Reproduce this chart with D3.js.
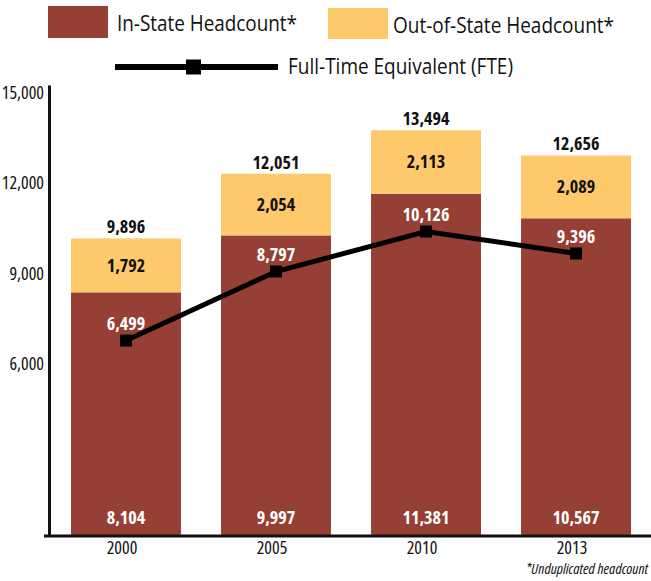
<!DOCTYPE html>
<html>
<head>
<meta charset="utf-8">
<script src="https://cdn.jsdelivr.net/npm/d3@7"></script>
<style>
  body { margin: 0; background: #fff; }
  svg { display: block; font-family: "Open Sans", sans-serif; font-stretch: condensed; }
  .axis text { font-size: 18px; fill: #111; font-family: "Open Sans", sans-serif; }
  .legend text { font-stretch: normal; }
</style>
</head>
<body>
<svg id="chart" width="651" height="581"></svg>
<script>
var WIDTH = 651;
var HEIGHT = 581;
var BASELINE = 536;
var IN_COLOR = '#963f35';
var OUT_COLOR = '#fec96a';

var years = ['2000', '2005', '2010', '2013'];
var inState = [8104, 9997, 11381, 10567];
var outState = [1792, 2054, 2113, 2089];
var totals = [9896, 12051, 13494, 12656];
var fte = [6499, 8797, 10126, 9396];
var yTicks = [6000, 9000, 12000, 15000];

var fmt = d3.format(',');
var svg = d3.select('#chart');

var x = d3.scaleBand()
  .domain(years)
  .range([50, 652])
  .paddingInner(0.267)
  .paddingOuter(0.14);

var y = d3.scaleLinear()
  .domain([0, 15000])
  .range([BASELINE, 85]);

// bars
var bars = svg.append('g').attr('class', 'bars');

bars.selectAll('.in-state')
  .data(years)
  .enter()
  .append('rect')
  .attr('class', 'in-state')
  .attr('x', d => x(d))
  .attr('width', x.bandwidth())
  .attr('y', (d, i) => y(inState[i]))
  .attr('height', (d, i) => BASELINE - y(inState[i]))
  .attr('fill', IN_COLOR);

bars.selectAll('.out-state')
  .data(years)
  .enter()
  .append('rect')
  .attr('class', 'out-state')
  .attr('x', d => x(d))
  .attr('width', x.bandwidth())
  .attr('y', (d, i) => y(inState[i] + outState[i]))
  .attr('height', (d, i) => y(inState[i]) - y(inState[i] + outState[i]))
  .attr('fill', OUT_COLOR);

// axes
var yAxis = d3.axisLeft(y)
  .tickValues(yTicks)
  .tickSize(0)
  .tickPadding(5)
  .tickFormat(fmt);

var yAxisGroup = svg.append('g')
  .attr('class', 'axis axis-y')
  .attr('transform', 'translate(49, 0)')
  .call(yAxis);

yAxisGroup.select('.domain').attr('stroke', '#111').attr('stroke-width', 3);
yAxisGroup.selectAll('text').attr('y', 8);

var xAxis = d3.axisBottom(x).tickSize(0).tickPadding(5);

var xAxisGroup = svg.append('g')
  .attr('class', 'axis axis-x')
  .attr('transform', 'translate(0, ' + BASELINE + ')')
  .call(xAxis);

xAxisGroup.select('.domain').remove();
xAxisGroup.selectAll('text').attr('dx', -4);

svg.append('line')
  .attr('x1', 44)
  .attr('x2', WIDTH)
  .attr('y1', BASELINE)
  .attr('y2', BASELINE)
  .attr('stroke', '#111')
  .attr('stroke-width', 3);

// FTE line
var cx = d => x(d) + x.bandwidth() / 2;

var line = d3.line()
  .x(d => cx(d))
  .y((d, i) => y(fte[i]));

svg.append('path')
  .attr('d', line(years))
  .attr('fill', 'none')
  .attr('stroke', '#000')
  .attr('stroke-width', 5);

svg.selectAll('.fte-marker')
  .data(years)
  .enter()
  .append('rect')
  .attr('class', 'fte-marker')
  .attr('x', d => cx(d) - 6)
  .attr('y', (d, i) => y(fte[i]) - 6)
  .attr('width', 12)
  .attr('height', 12)
  .attr('fill', '#000');

// value labels
var labels = svg.append('g')
  .attr('text-anchor', 'middle')
  .attr('font-weight', 'bold')
  .attr('font-size', 18);

labels.selectAll('.total')
  .data(years)
  .enter()
  .append('text')
  .attr('x', cx)
  .attr('y', (d, i) => y(inState[i] + outState[i]) - 5)
  .attr('fill', '#111')
  .text((d, i) => fmt(totals[i]));

labels.selectAll('.out-label')
  .data(years)
  .enter()
  .append('text')
  .attr('x', cx)
  .attr('y', (d, i) => (y(inState[i]) + y(inState[i] + outState[i])) / 2)
  .attr('dy', '0.35em')
  .attr('fill', '#111')
  .text((d, i) => fmt(outState[i]));

labels.selectAll('.fte-label')
  .data(years)
  .enter()
  .append('text')
  .attr('x', cx)
  .attr('y', (d, i) => y(fte[i]) - 17)
  .attr('dy', '0.35em')
  .attr('fill', '#fff')
  .text((d, i) => fmt(fte[i]));

labels.selectAll('.in-label')
  .data(years)
  .enter()
  .append('text')
  .attr('x', cx)
  .attr('y', BASELINE - 12)
  .attr('fill', '#fff')
  .text((d, i) => fmt(inState[i]));

// legend (Myriad-like width: squeeze regular text to the reference lengths)
var legend = svg.append('g').attr('class', 'legend').attr('font-size', 21).attr('fill', '#111');

legend.append('rect').attr('x', 48).attr('y', 6).attr('width', 60).attr('height', 32).attr('fill', IN_COLOR);
legend.append('text').attr('x', 117).attr('y', 31)
  .attr('textLength', 180).attr('lengthAdjust', 'spacingAndGlyphs')
  .text('In-State Headcount*');

legend.append('rect').attr('x', 328).attr('y', 8).attr('width', 60).attr('height', 31).attr('fill', OUT_COLOR);
legend.append('text').attr('x', 393).attr('y', 33)
  .attr('textLength', 221).attr('lengthAdjust', 'spacingAndGlyphs')
  .text('Out-of-State Headcount*');

legend.append('line').attr('x1', 115).attr('x2', 278).attr('y1', 67).attr('y2', 67)
  .attr('stroke', '#000').attr('stroke-width', 6);
legend.append('rect').attr('x', 186).attr('y', 59.5).attr('width', 15).attr('height', 15).attr('fill', '#000');
legend.append('text').attr('x', 288).attr('y', 74)
  .attr('textLength', 225).attr('lengthAdjust', 'spacingAndGlyphs')
  .text('Full-Time Equivalent (FTE)');

svg.append('text')
  .attr('x', 648)
  .attr('y', 574)
  .attr('text-anchor', 'end')
  .attr('font-size', 15)
  .attr('font-style', 'italic')
  .attr('fill', '#111')
  .text('*Unduplicated headcount');
</script>
</body>
</html>
